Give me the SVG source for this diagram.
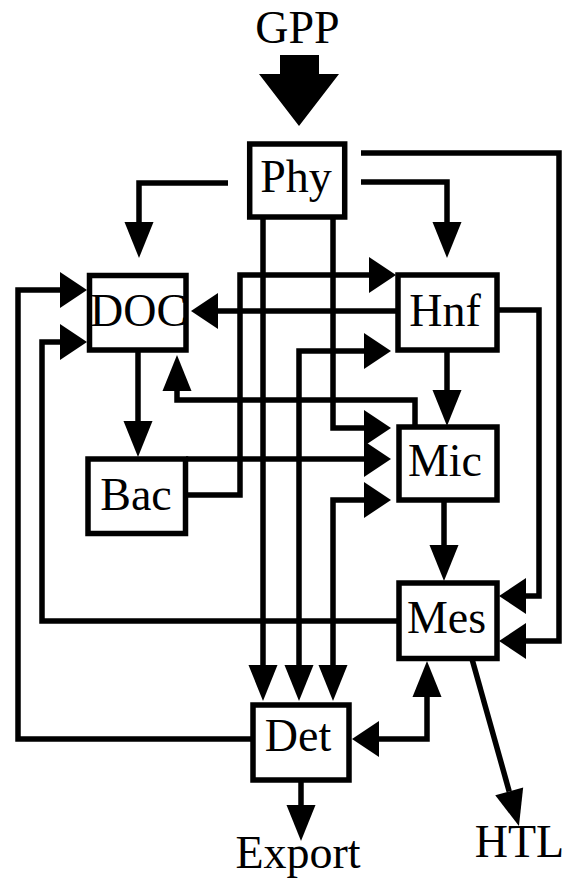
<svg xmlns="http://www.w3.org/2000/svg" width="574" height="879" viewBox="0 0 574 879">
<style>
.box{fill:#fff;stroke:#000;stroke-width:5.5}
.lbl{font-family:"Liberation Serif","Times New Roman",serif;font-size:46px;fill:#000;text-anchor:middle}
.ln{fill:none;stroke:#000;stroke-width:5.5;stroke-linejoin:miter;stroke-linecap:butt}
</style>
<defs>
<marker id="av" markerUnits="userSpaceOnUse" orient="auto-start-reverse" refX="0" refY="0" markerWidth="40" markerHeight="40" overflow="visible"><path d="M0,-14.5 L36,0 L0,14.5 z" fill="#000"/></marker>
<marker id="ah" markerUnits="userSpaceOnUse" orient="auto-start-reverse" refX="0" refY="0" markerWidth="40" markerHeight="40" overflow="visible"><path d="M0,-18 L27,0 L0,18 z" fill="#000"/></marker>
</defs>
<rect width="574" height="879" fill="#fff"/>
<g id="connectors">
<polygon points="280,55 319,55 319,74 339,74 299,126 259,74 280,74" fill="#000"/>
<path class="ln" d="M228,183 H139 V222" marker-end="url(#av)"/>
<path class="ln" d="M361,182 H447 V222" marker-end="url(#av)"/>
<path class="ln" d="M361,153 H559 V641 H526" marker-end="url(#ah)"/>
<path class="ln" d="M497,310 H539 V596 H526" marker-end="url(#ah)"/>
<path class="ln" d="M397,311 H218" marker-end="url(#ah)"/>
<path class="ln" d="M186,495 H240 V275 H369" marker-end="url(#ah)"/>
<path class="ln" d="M186,459 H364" marker-end="url(#ah)"/>
<path class="ln" d="M138,351 V421" marker-end="url(#av)"/>
<path class="ln" d="M415,427 V400 H177 V391" marker-end="url(#av)"/>
<path class="ln" d="M447,350 V390" marker-end="url(#av)"/>
<path class="ln" d="M444,501 V545" marker-end="url(#av)"/>
<path class="ln" d="M263,218 V665" marker-end="url(#av)"/>
<path class="ln" d="M333,218 V428 H364" marker-end="url(#ah)"/>
<path class="ln" d="M364,500 H333 V665" marker-start="url(#ah)" marker-end="url(#av)"/>
<path class="ln" d="M364,351 H299 V665" marker-start="url(#ah)" marker-end="url(#av)"/>
<path class="ln" d="M399,621 H42 V342 H60" marker-end="url(#ah)"/>
<path class="ln" d="M253,739 H18 V290 H60" marker-end="url(#ah)"/>
<path class="ln" d="M379,739 H427 V697" marker-start="url(#ah)" marker-end="url(#av)"/>
<path class="ln" d="M301,780 V805" marker-end="url(#av)"/>
<path class="ln" d="M472,659 L509.2,791.4" marker-end="url(#av)"/>
</g>
<g id="GPP"><text class="lbl" x="297.5" y="43">GPP</text></g>
<g id="Phy"><rect class="box" x="249.7" y="144" width="95" height="73"/><text class="lbl" x="296" y="192">Phy</text></g>
<g id="DOC"><rect class="box" x="89.5" y="275.5" width="96.5" height="74.5"/><text class="lbl" x="138.5" y="326">DOC</text></g>
<g id="Hnf"><rect class="box" x="398" y="275" width="99" height="75"/><text class="lbl" x="445" y="326">Hnf</text></g>
<g id="Mic"><rect class="box" x="399" y="427" width="98" height="73"/><text class="lbl" x="445" y="476">Mic</text></g>
<g id="Bac"><rect class="box" x="88" y="459" width="97.5" height="74.5"/><text class="lbl" x="136" y="510">Bac</text></g>
<g id="Mes"><rect class="box" x="399" y="583" width="98" height="75.5"/><text class="lbl" x="446.5" y="633">Mes</text></g>
<g id="Det"><rect class="box" x="253" y="705" width="96" height="75"/><text class="lbl" x="298" y="751">Det</text></g>
<g id="Export"><text class="lbl" x="298" y="868">Export</text></g>
<g id="HTL"><text class="lbl" x="519.5" y="857">HTL</text></g>
</svg>
